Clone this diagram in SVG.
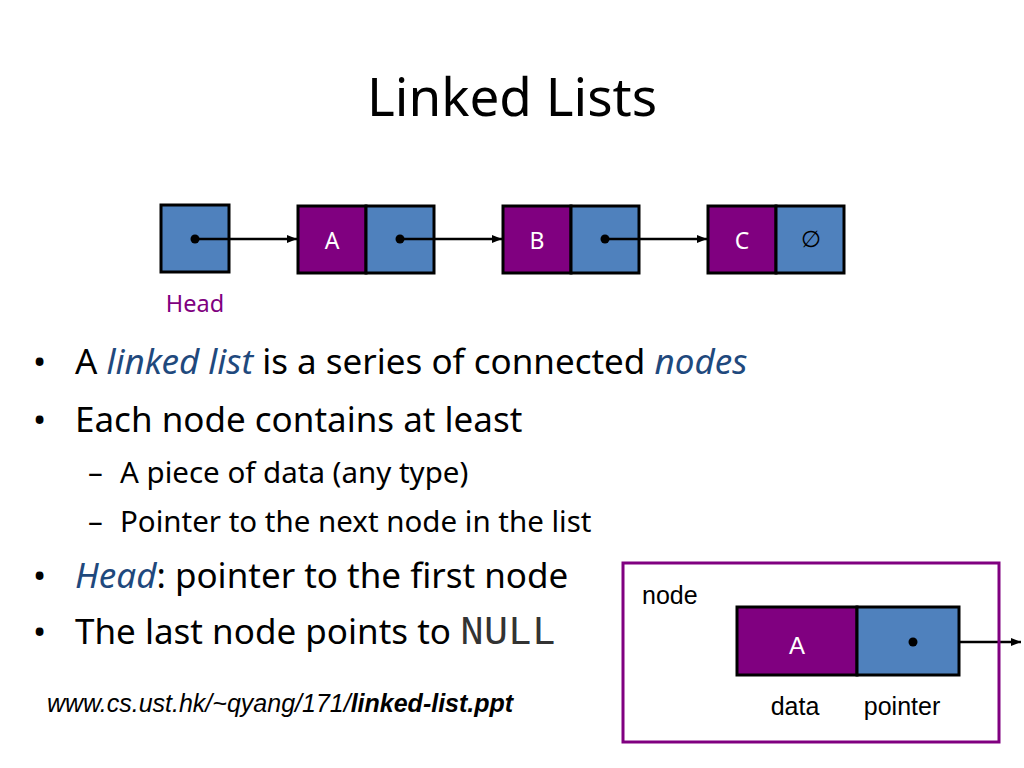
<svg xmlns="http://www.w3.org/2000/svg" width="1024" height="768" viewBox="0 0 1024 768">
<defs>
<marker id="ah" viewBox="0 0 10 10" refX="10" refY="5" markerWidth="4" markerHeight="4" orient="auto" markerUnits="strokeWidth"><path d="M0,1 L10,5 L0,9 z" fill="#000"/></marker>
<style>
.d{fill:#800080;stroke:#000;stroke-width:3}
.p{fill:#4F81BD;stroke:#000;stroke-width:3}
.lt{font-family:"Noto Sans","Open Sans",sans-serif;font-size:23px;fill:#fff;text-anchor:middle}
.b{font-family:"Noto Sans","Open Sans",sans-serif;font-size:35px;fill:#000}
.s{font-family:"Noto Sans","Open Sans",sans-serif;font-size:29.5px;fill:#000}
.ar{font-family:"Liberation Sans",Arial,sans-serif;font-size:25px;fill:#000}
.c{stroke:#000;stroke-width:2.5;fill:none;marker-end:url(#ah)}
</style>
</defs>
<rect width="1024" height="768" fill="#fff"/>
<text x="512" y="116" text-anchor="middle" font-family="Noto Sans, Open Sans, sans-serif" font-size="53" fill="#000">Linked Lists</text>

<g id="head"><rect class="p" x="161" y="205" width="68" height="67"/><circle cx="195" cy="239" r="4.5"/><text x="195" y="312" text-anchor="middle" font-family="Noto Sans, sans-serif" font-size="23.5" fill="#800080">Head</text></g>
<g id="nodeA"><rect class="d" x="298" y="206" width="68" height="67"/><rect class="p" x="366" y="206" width="68" height="67"/><text class="lt" x="332" y="249">A</text><circle cx="400" cy="239" r="4.5"/></g>
<g id="nodeB"><rect class="d" x="503" y="206" width="68" height="67"/><rect class="p" x="571" y="206" width="68" height="67"/><text class="lt" x="537" y="249">B</text><circle cx="605" cy="239" r="4.5"/></g>
<g id="nodeC"><rect class="d" x="708" y="206" width="68" height="67"/><rect class="p" x="776" y="206" width="68" height="67"/><text class="lt" x="742" y="249">C</text><text x="811" y="247" text-anchor="middle" font-family="DejaVu Sans, sans-serif" font-size="23" fill="#000">∅</text></g>

<g id="connectors">
<line class="c" x1="195" y1="239" x2="297" y2="239"/>
<line class="c" x1="400" y1="239" x2="502" y2="239"/>
<line class="c" x1="605" y1="239" x2="707" y2="239"/>
<line class="c" x1="913" y1="642" x2="1021" y2="642"/>
</g>

<g id="bullets">
<text class="b" x="33" y="374">•</text>
<text class="b" x="75" y="374">A <tspan font-style="italic" fill="#1F497D">linked list</tspan> is a series of connected <tspan font-style="italic" fill="#1F497D">nodes</tspan></text>
<text class="b" x="33" y="432">•</text>
<text class="b" x="75" y="432">Each node contains at least</text>
<text class="s" x="88" y="483">–</text>
<text class="s" x="120" y="483">A piece of data (any type)</text>
<text class="s" x="88" y="532">–</text>
<text class="s" x="120" y="532">Pointer to the next node in the list</text>
<text class="b" x="33" y="588" fill="#1F497D">•</text>
<text class="b" x="75" y="588"><tspan font-style="italic" fill="#1F497D">Head</tspan>: pointer to the first node</text>
<text class="b" x="33" y="644">•</text>
<text class="b" x="75" y="644">The last node points to <tspan font-family="Liberation Mono, monospace" font-size="40" fill="#333">NULL</tspan></text>
</g>

<text class="ar" x="47" y="712" font-style="italic">www.cs.ust.hk/~qyang/171/<tspan font-weight="bold">linked-list.ppt</tspan></text>

<g id="legend">
<rect x="623" y="563" width="376" height="179" fill="none" stroke="#800080" stroke-width="3"/>
<text class="ar" x="642" y="604">node</text>
<rect class="d" x="737" y="607" width="120" height="68"/>
<rect class="p" x="857" y="607" width="102" height="68"/>
<text x="797" y="654" text-anchor="middle" font-family="Liberation Sans, sans-serif" font-size="24" fill="#fff">A</text>
<circle cx="913" cy="642" r="4.5"/>
<text class="ar" x="795" y="715" text-anchor="middle">data</text>
<text class="ar" x="902" y="715" text-anchor="middle">pointer</text>
</g>
</svg>
